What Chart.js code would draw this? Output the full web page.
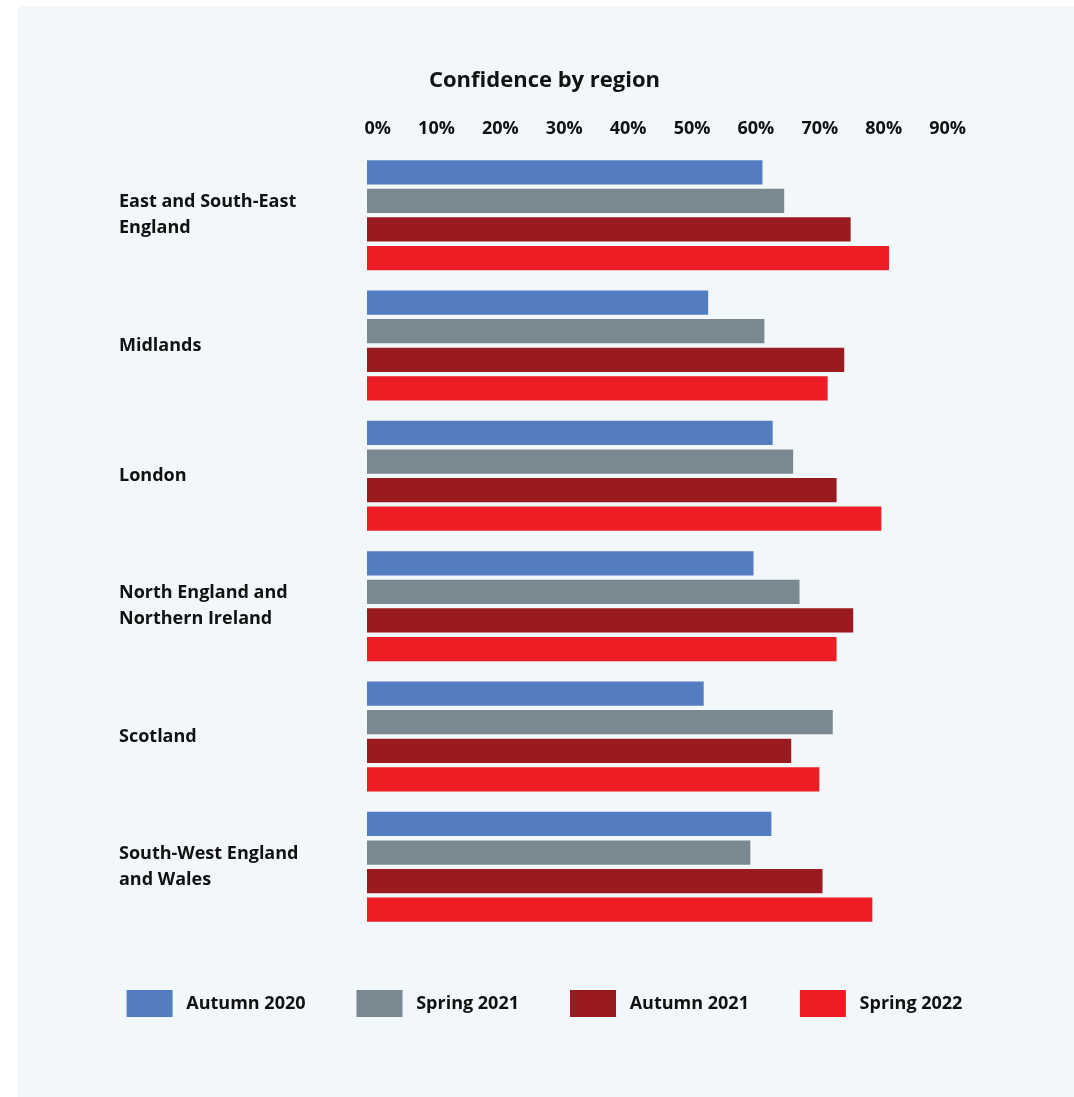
<!DOCTYPE html>
<html>
<head>
<meta charset="utf-8">
<script src="https://cdn.jsdelivr.net/npm/chart.js@4"></script>
<style>
  html, body { margin: 0; padding: 0; background: #ffffff; }
  #panel {
    position: absolute;
    left: 18px;
    top: 6px;
    width: 1056px;
    height: 1091px;
    background: #f2f7fa;
  }
</style>
</head>
<body>
<div id="panel">
  <canvas id="regionChart" width="1056" height="1091"></canvas>
</div>
<script>
var regions = [
    ['East and South-East', 'England'],
    'Midlands',
    'London',
    ['North England and', 'Northern Ireland'],
    'Scotland',
    ['South-West England', 'and Wales']
];

var autumn2020 = [61.9, 53.4, 63.5, 60.5, 52.7, 63.3];
var spring2021 = [65.3, 62.2, 66.7, 67.7, 72.9, 60.0];
var autumn2021 = [75.7, 74.7, 73.5, 76.1, 66.4, 71.3];
var spring2022 = [81.7, 72.1, 80.5, 73.5, 70.8, 79.1];

var seriesNames = ['Autumn 2020', 'Spring 2021', 'Autumn 2021', 'Spring 2022'];
var seriesColours = ['#537dc0', '#798891', '#991b1f', '#ee1d25'];

var fontFamily = 'Open Sans';
var labelFont = { family: fontFamily, size: 18, weight: 'bold' };

// empty axes used only as spacers around the plot area
function spacer(position, size, weight) {
    return {
        type: 'linear',
        position: position,
        weight: weight,
        grid: { display: false, drawTicks: false },
        border: { display: false },
        ticks: { display: false },
        afterFit: function (axis) {
            if (axis.isHorizontal()) { axis.height = size; } else { axis.width = size; }
        }
    };
}

var ctx = document.getElementById('regionChart').getContext('2d');
var regionChart = new Chart(ctx, {
    type: 'bar',
    data: {
        labels: regions,
        datasets: [autumn2020, spring2021, autumn2021, spring2022].map(function (values, i) {
            return {
                label: seriesNames[i],
                data: values,
                xAxisID: 'x',
                yAxisID: 'y',
                backgroundColor: seriesColours[i],
                borderWidth: 0,
                categoryPercentage: 0.877,
                barPercentage: 0.85
            };
        })
    },
    options: {
        indexAxis: 'y',
        responsive: false,
        animation: false,
        layout: {
            padding: { left: 40, right: 43, top: 50, bottom: 70 }
        },
        scales: {
            x: {
                position: 'top',
                min: 0,
                max: 90,
                grid: { display: false, drawTicks: false },
                border: { display: false },
                ticks: {
                    stepSize: 10,
                    align: 'end',
                    labelOffset: 24,
                    padding: 10,
                    color: '#111111',
                    font: labelFont,
                    callback: function (value) { return value + '%'; }
                }
            },
            y: {
                weight: 0,
                grid: { display: false, drawTicks: false },
                border: { display: false },
                ticks: {
                    crossAlign: 'far',
                    color: '#111111',
                    font: { family: fontFamily, size: 18, weight: 'bold', lineHeight: 1.45 }
                },
                afterFit: function (axis) { axis.width = 248; }
            },
            gutterLeft: spacer('left', 61, 10),
            gutterRight: spacer('right', 89, 10),
            gutterBottom: spacer('bottom', 7, 0)
        },
        plugins: {
            title: {
                display: true,
                text: 'Confidence by region',
                color: '#111111',
                font: { family: fontFamily, size: 22, weight: 'bold' },
                padding: { top: 12, bottom: 14 }
            },
            legend: {
                position: 'bottom',
                labels: {
                    boxWidth: 46,
                    boxHeight: 27,
                    padding: 51,
                    color: '#111111',
                    font: labelFont,
                    // a little more room between swatch and text
                    generateLabels: function (chart) {
                        return Chart.defaults.plugins.legend.labels.generateLabels(chart).map(function (item) {
                            item.text = ' ' + item.text;
                            return item;
                        });
                    }
                }
            },
            tooltip: { enabled: false }
        }
    }
});
</script>
</body>
</html>
